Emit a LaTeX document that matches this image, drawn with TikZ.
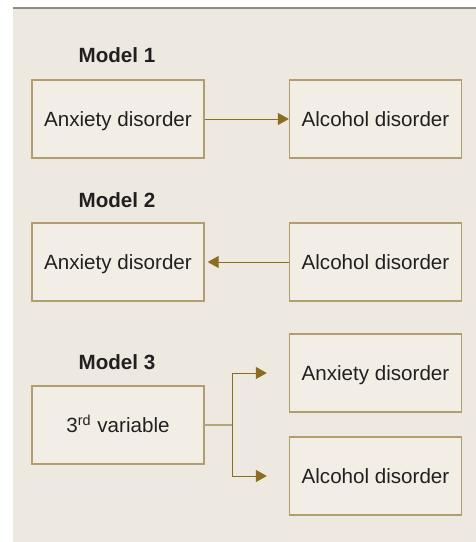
\documentclass[tikz,border=0pt]{standalone}
\usepackage{fontspec}
\setmainfont{Liberation Sans}
\usepackage{xcolor}
\definecolor{mdbg}{RGB}{237,233,225}
\definecolor{mdfill}{RGB}{242,238,229}
\definecolor{mdframe}{RGB}{178,157,110}
\definecolor{mdarrow}{RGB}{139,108,34}
\definecolor{mdstub}{RGB}{181,163,122}
\definecolor{mdtext}{RGB}{35,31,32}
\definecolor{mdrule}{RGB}{140,140,140}
\usetikzlibrary{arrows.meta,positioning}

\begin{document}
\begin{tikzpicture}[x=0.5pt,y=-0.5pt,
  box/.style={draw=mdframe,fill=mdfill,line width=0.65pt,minimum width=86pt,minimum height=39pt,
    font=\fontsize{10.3}{12}\selectfont,text=mdtext,inner sep=0pt,text height=7.6pt,text depth=0pt},
  title/.style={font=\fontsize{10.3}{12}\selectfont\bfseries,text=mdtext,inner sep=0pt},
  conn/.style={-{Triangle[length=5.5pt,width=6pt]},line width=0.5pt,mdarrow},
  stub/.style={line width=0.65pt,mdstub}]
  \useasboundingbox (0,0) rectangle (476,542);
  % Panel
  \fill[mdbg] (13,8) rectangle (476,542);
  \draw[mdrule,line width=0.7pt] (13,8) -- (476,8);
  % Model 1
  \node[title] (t1) at (117,55) {Model 1};
  \node[box] (anx1) at (118,119) {Anxiety disorder};
  \node[box] (alc1) at (375.5,119) {Alcohol disorder};
  \draw[conn] (anx1) -- (alc1);
  % Model 2
  \node[title] (t2) at (117,200) {Model 2};
  \node[box] (anx2) at (118,262) {Anxiety disorder};
  \node[box] (alc2) at (375.5,262) {Alcohol disorder};
  \draw[conn,shorten >=1.5pt] (alc2) -- (anx2);
  % Model 3
  \node[title] (t3) at (117,362) {Model 3};
  \node[box] (var3) at (118,425) {3\textsuperscript{rd} variable};
  \node[box] (anx3) at (375.5,373) {Anxiety disorder};
  \node[box] (alc3) at (375.5,476) {Alcohol disorder};
  \coordinate (split) at (232,425);
  \draw[stub] (var3.east) -- (split);
  \draw[conn,shorten >=11pt] (split) |- (anx3.west);
  \draw[conn,shorten >=11pt] (split) |- (alc3.west);
\end{tikzpicture}
\end{document}
